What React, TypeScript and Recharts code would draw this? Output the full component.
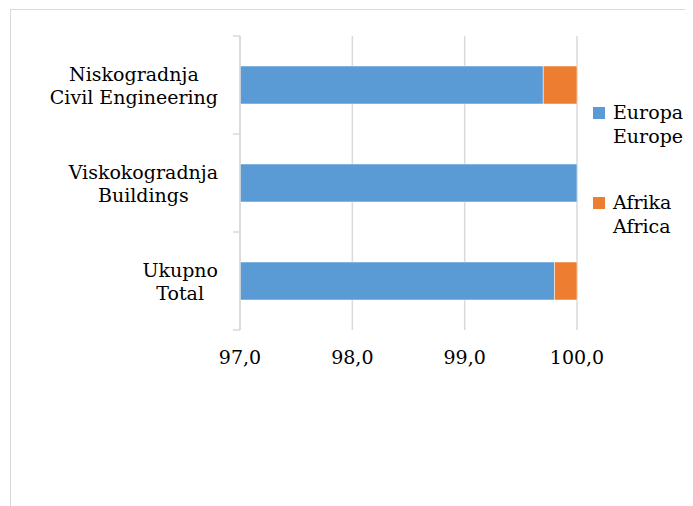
import React from 'react';
import { Bar, BarChart, CartesianGrid, XAxis, YAxis } from 'recharts';

const categoriesLocal = ['Niskogradnja', 'Viskokogradnja', 'Ukupno'];
const categoriesEn = ['Civil Engineering', 'Buildings', 'Total'];
const europa = [99.7, 100.0, 99.8];
const afrika = [0.3, 0.0, 0.2];
const xTicks = [97, 98, 99, 100];

const seriesKeys = ['europa', 'afrika'];
const seriesLocal = ['Europa', 'Afrika'];
const seriesEn = ['Europe', 'Africa'];
const seriesColors = ['#5b9bd5', '#ed7d31'];

const FONT = '"DejaVu Serif", serif';
const FONT_SIZE = 19;
const GRID = '#d9d9d9';

const data = categoriesLocal.map((c, i) => ({
  name: c,
  en: categoriesEn[i],
  europa: europa[i],
  afrika: afrika[i],
}));

// measure text so the two-line labels can be right-aligned as a block
let ctx: CanvasRenderingContext2D | null = null;
const textWidth = (s: string) => {
  if (!ctx) ctx = document.createElement('canvas').getContext('2d');
  if (!ctx) return s.length * FONT_SIZE * 0.55;
  ctx.font = `${FONT_SIZE}px ${FONT}`;
  return ctx.measureText(s).width;
};

const CategoryTick = (props: any) => {
  const { x, y, payload, index, visibleTicksCount } = props;
  const local = payload.value;
  const en = categoriesEn[categoriesLocal.indexOf(local)];
  const half = payload.offset || 49;
  const blockW = Math.max(textWidth(local), textWidth(en));
  const right = x - 14;
  const cx = right - blockW / 2;
  const axisX = x + 8;
  return (
    <g>
      <line x1={axisX - 7} x2={axisX} y1={y - half} y2={y - half} stroke={GRID} strokeWidth={1.5} />
      {index === visibleTicksCount - 1 && (
        <line x1={axisX - 7} x2={axisX} y1={y + half} y2={y + half} stroke={GRID} strokeWidth={1.5} />
      )}
      <text x={cx} y={y - 4} textAnchor="middle" fontFamily={FONT} fontSize={FONT_SIZE} fill="#000">
        {local}
      </text>
      <text x={cx} y={y + 19} textAnchor="middle" fontFamily={FONT} fontSize={FONT_SIZE} fill="#000">
        {en}
      </text>
    </g>
  );
};

const ChartLegend = () => (
  <div
    style={{
      position: 'absolute',
      left: 585,
      top: 92,
      fontFamily: FONT,
      fontSize: FONT_SIZE,
      color: '#000',
      lineHeight: '24px',
    }}
  >
    {seriesKeys.map((k, i) => (
      <div key={k} style={{ display: 'flex', alignItems: 'flex-start', marginBottom: i === 0 ? 42 : 0 }}>
        <div style={{ width: 12, height: 12, background: seriesColors[i], marginTop: 7, marginRight: 8 }} />
        <div>
          <div>{seriesLocal[i]}</div>
          <div>{seriesEn[i]}</div>
        </div>
      </div>
    ))}
  </div>
);

export default function App() {
  return (
    <div style={{ position: 'relative', width: 685, height: 498, overflow: 'hidden' }}>
      <div
        style={{
          position: 'absolute',
          left: 2,
          top: 1,
          width: 760,
          height: 600,
          border: '1.5px solid #d9d9d9',
        }}
      />
      <div style={{ position: 'absolute', left: 0, top: 0 }}>
        <BarChart
          width={685}
          height={498}
          data={data}
          layout="vertical"
          barSize={38}
          margin={{ top: 28, right: 116, left: 0, bottom: 146 }}
        >
          <CartesianGrid horizontal={false} stroke={GRID} strokeWidth={1.5} />
          <XAxis
            type="number"
            domain={[97, 100]}
            ticks={xTicks}
            allowDataOverflow
            axisLine={false}
            tickLine={false}
            tickFormatter={(v: number) => v.toFixed(1).replace('.', ',')}
            tick={{ fontFamily: FONT, fontSize: FONT_SIZE, fill: '#000' }}
            tickMargin={15}
          />
          <YAxis
            type="category"
            dataKey="name"
            width={232}
            axisLine={{ stroke: GRID, strokeWidth: 1.5 }}
            tickLine={false}
            tick={<CategoryTick />}
            interval={0}
          />
          {seriesKeys.map((k, i) => (
            <Bar
              key={k}
              dataKey={k}
              stackId="a"
              fill={seriesColors[i]}
              stroke="#fff"
              strokeWidth={0.5}
              isAnimationActive={false}
            />
          ))}
        </BarChart>
      </div>
      <ChartLegend />
    </div>
  );
}
